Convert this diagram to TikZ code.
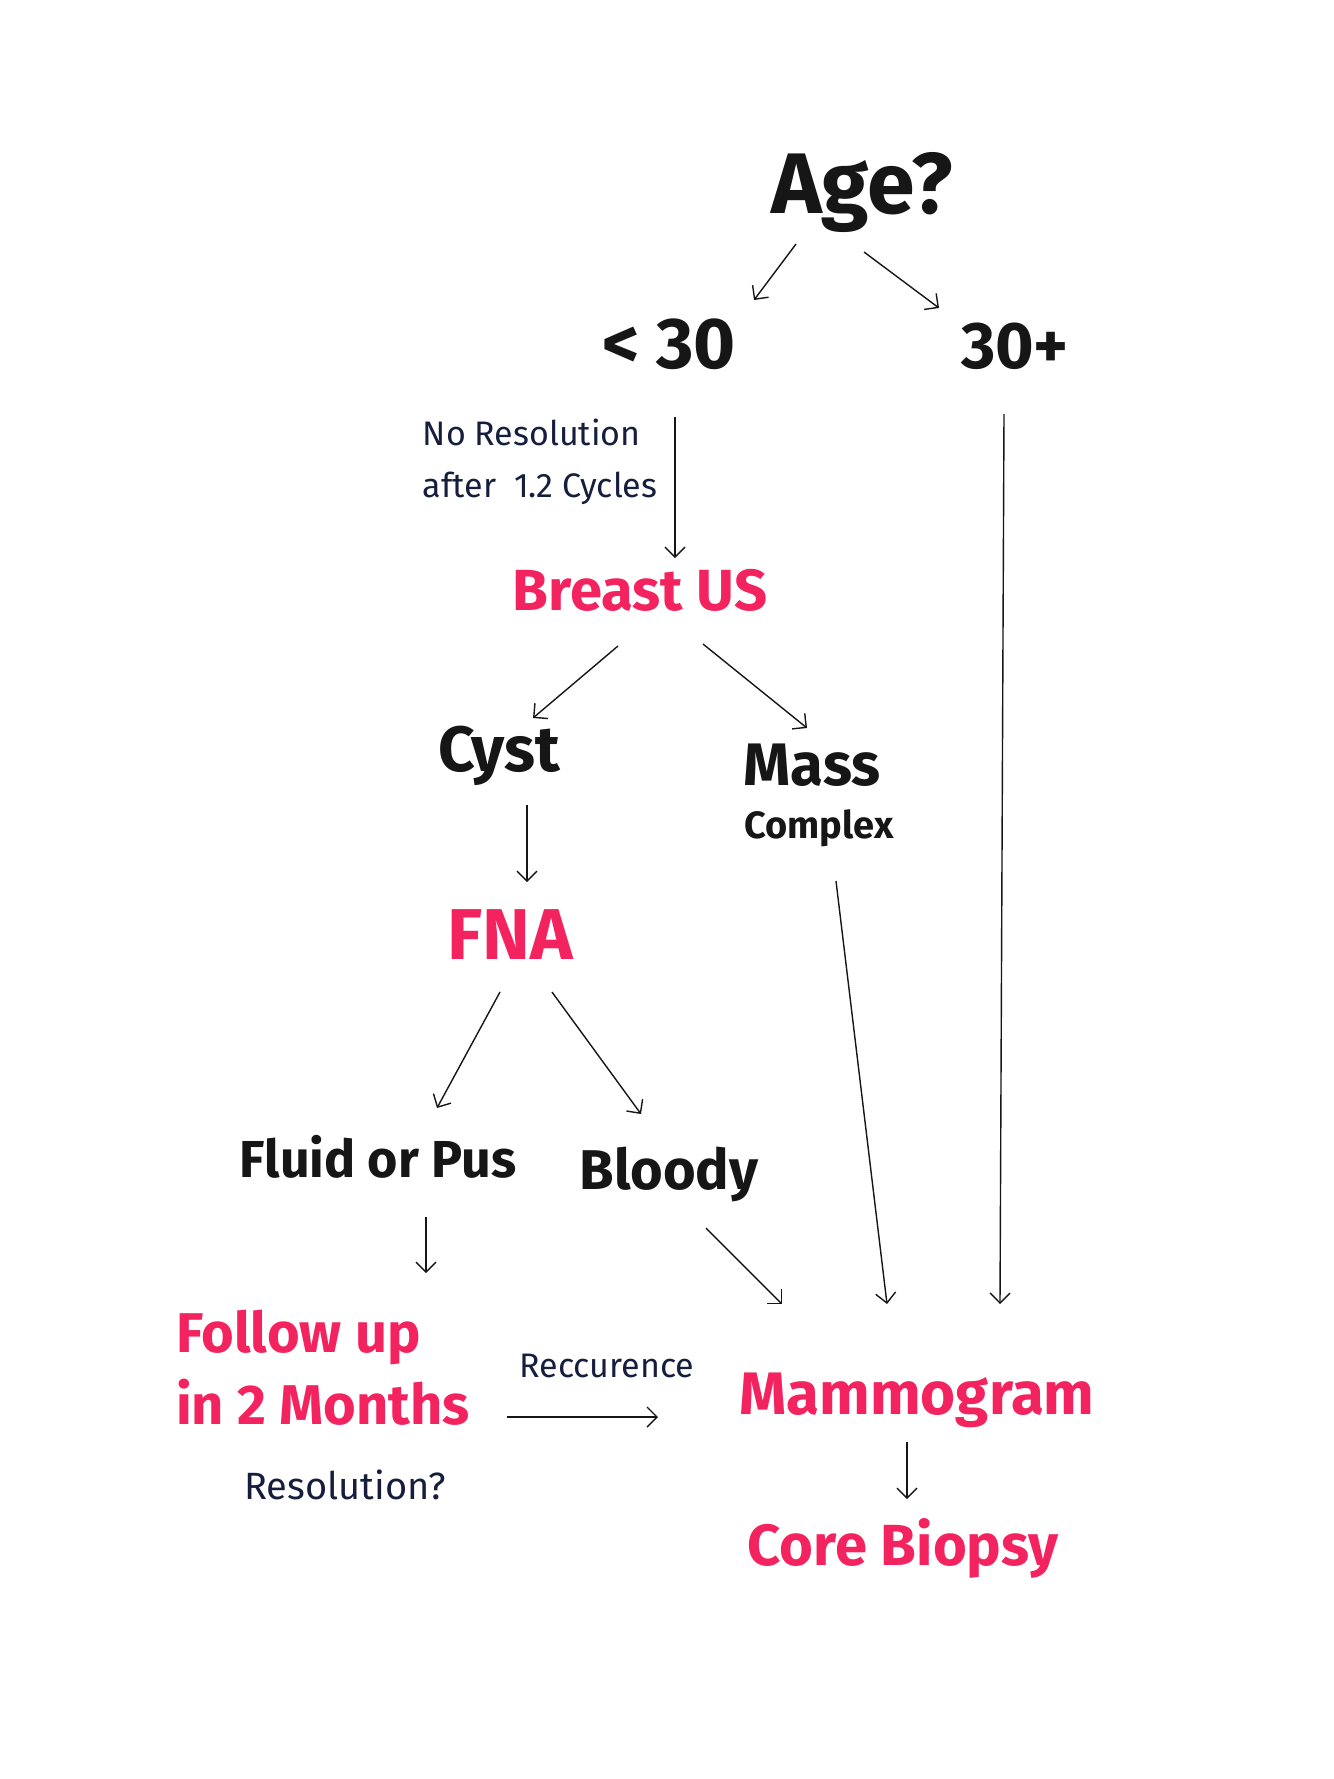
\documentclass[tikz,border=0pt]{standalone}
\usepackage{fontspec}
\setmainfont{Fira Sans}
\usetikzlibrary{arrows.meta}
\definecolor{marker}{RGB}{243,35,95}
\definecolor{ink}{RGB}{22,22,22}
\definecolor{pen}{RGB}{22,30,62}
\newcommand{\fs}[1]{\fontsize{#1}{1.2\dimexpr #1pt\relax}\selectfont}
\begin{document}
\begin{tikzpicture}[x=0.5pt,y=-0.5pt]
\tikzstyle{every node}+=[inner sep=0pt]
\tikzstyle{blk}=[text=ink,font=\bfseries]
\tikzstyle{red}=[text=marker,font=\bfseries]
\tikzstyle{note}=[text=pen]
\tikzstyle{arr}=[draw=ink,line width=0.7pt,-{Straight Barb[length=5pt,width=10pt]}]
\useasboundingbox (0,0) rectangle (1334,1779);
\node [blk] (age) at (862,193) {\fs{43}Age?};
\node [blk] (lt30) at (669,344) {\fs{36}< 30};
\node [blk] (p30) at (1015,346) {\fs{33}30+};
\node [note,align=left,font=\fontsize{17}{26}\selectfont] (nores) at (540,462) {No Resolution\\after\ \ 1.2 Cycles};
\node [red] (breast) at (640,590) {\fs{29}Breast US};
\node [blk] (cyst) at (499,756) {\fs{32}Cyst};
\node [blk] (mass) at (812,765) {\fs{30}Mass};
\node [blk] (complex) at (819,828) {\fs{19}Complex};
\node [red] (fna) at (510,935) {\fs{36}FNA};
\node [blk] (fluid) at (378,1157) {\fs{26}Fluid or Pus};
\node [blk] (bloody) at (669,1174) {\fs{28}Bloody};
\node [red,align=left,font=\bfseries\fontsize{28}{36}\selectfont] (follow) at (323,1368) {Follow up\\in 2 Months};
\node [note] (recur) at (607,1366) {\fs{17}Reccurence};
\node [note] (resol) at (345,1485) {\fs{19}Resolution?};
\node [red] (mammo) at (917,1400) {\fs{30}Mammogram};
\node [red] (core) at (903,1548) {\fs{29}Core Biopsy};
\draw [arr] ([shift={(-66,51)}]age.center) -- ([shift={(85,-44)}]lt30.center);
\draw [arr] ([shift={(2,59)}]age.center) -- ([shift={(-76,-38)}]p30.center);
\draw [arr] ([shift={(6,73)}]lt30.center) -- ([shift={(35,-32)}]breast.center);
\draw [arr] ([shift={(-22,56)}]breast.center) -- ([shift={(34,-38)}]cyst.center);
\draw [arr] ([shift={(63,54)}]breast.center) -- ([shift={(-5,-37)}]mass.center);
\draw [arr] ([shift={(28,49)}]cyst.center) -- ([shift={(17,-53)}]fna.center);
\draw [arr] ([shift={(-10,57)}]fna.center) -- ([shift={(59,-49)}]fluid.center);
\draw [arr] ([shift={(42,57)}]fna.center) -- ([shift={(-28,-60)}]bloody.center);
\draw [arr] ([shift={(48,60)}]fluid.center) -- ([shift={(103,-95)}]follow.center);
\draw [arr] ([shift={(37,54)}]bloody.center) -- ([shift={(-135,-96)}]mammo.center);
\draw [arr] ([shift={(17,53)}]complex.center) -- ([shift={(-30,-96)}]mammo.center);
\draw [arr] ([shift={(-11,68)}]p30.center) -- ([shift={(83,-96)}]mammo.center);
\draw [arr] ([shift={(184,49)}]follow.center) -- ([shift={(-259,17)}]mammo.center);
\draw [arr] ([shift={(-10,42)}]mammo.center) -- ([shift={(4,-49)}]core.center);
\end{tikzpicture}
\end{document}
